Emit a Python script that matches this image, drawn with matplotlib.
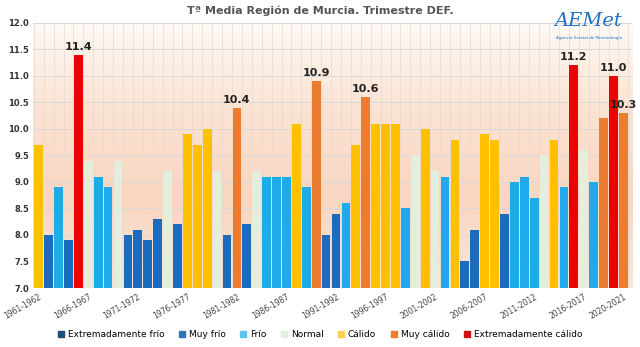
import numpy as np
import matplotlib
matplotlib.use("Agg")
import matplotlib.pyplot as plt
from matplotlib.patches import Patch
from matplotlib.colors import LinearSegmentedColormap

# winters 1961-1962 ... 2020-2021
start_years = list(range(1961, 2021))
temps = [9.7, 8.0, 8.9, 7.9, 11.4, 9.4, 9.1, 8.9, 9.4, 8.0,
         8.1, 7.9, 8.3, 9.2, 8.2, 9.9, 9.7, 10.0, 9.2, 8.0,
         10.4, 8.2, 9.2, 9.1, 9.1, 9.1, 10.1, 8.9, 10.9, 8.0,
         8.4, 8.6, 9.7, 10.6, 10.1, 10.1, 10.1, 8.5, 9.5, 10.0,
         9.2, 9.1, 9.8, 7.5, 8.1, 9.9, 9.8, 8.4, 9.0, 9.1,
         8.7, 9.5, 9.8, 8.9, 11.2, 9.6, 9.0, 10.2, 11.0, 10.3]
# EF=extremadamente frio, MF=muy frio, F=frio, N=normal, C=calido, MC=muy calido, EC=extremadamente calido
cats = ["C", "MF", "F", "MF", "EC", "N", "F", "F", "N", "MF",
        "MF", "MF", "MF", "N", "MF", "C", "C", "C", "N", "MF",
        "MC", "MF", "N", "F", "F", "F", "C", "F", "MC", "MF",
        "MF", "F", "C", "MC", "C", "C", "C", "F", "N", "C",
        "N", "F", "C", "MF", "MF", "C", "C", "MF", "F", "F",
        "F", "N", "C", "F", "EC", "N", "F", "MC", "EC", "MC"]
labelled = [4, 20, 28, 33, 54, 58, 59]

legend_keys = ["EF", "MF", "F", "N", "C", "MC", "EC"]
legend_names = ["Extremadamente frío", "Muy frío", "Frío", "Normal",
                "Cálido", "Muy cálido", "Extremadamente cálido"]
colors = {"EF": "#1f4e79", "MF": "#1b6cbf", "F": "#20aaea", "N": "#e3efdc",
          "C": "#ffc000", "MC": "#ec7c30", "EC": "#ee0000"}
legend_colors = {"EF": "#1f4e79", "MF": "#2e75b6", "F": "#5bc3ee", "N": "#e3efdc",
                 "C": "#ffd24d", "MC": "#ec7c30", "EC": "#d01010"}

tick_idx = list(range(0, 60, 5)) + [59]
tick_labels = ["%d-%d" % (start_years[i], start_years[i] + 1) for i in tick_idx]

fig = plt.figure(figsize=(6.4, 3.47), dpi=100)
ax = fig.add_axes([0.052, 0.170, 0.936, 0.764])

x = np.arange(len(temps))
ax.set_xlim(-0.55, 59.9)
ax.set_ylim(7.0, 12.0)

# background gradient
cmap = LinearSegmentedColormap.from_list("bg", ["#fbe6d8", "#f9d6c0", "#fbe3d3", "#fefaf6"])
grad = np.linspace(0, 1, 256).reshape(-1, 1)
ax.imshow(grad, aspect="auto", cmap=cmap, origin="lower",
          extent=[-0.55, 59.9, 7.0, 12.0], zorder=0)

for yy in np.arange(7.0, 12.01, 0.5):
    ax.axhline(yy, color="#d9d9d9", lw=0.7, zorder=1)
for xx in np.arange(-0.5, 60, 1):
    ax.axvline(xx, color="#ead9cc", lw=0.5, zorder=1)

ax.bar(x, np.array(temps) - 7.0, bottom=7.0, width=0.88,
       color=[colors[c] for c in cats], zorder=2)

for i in labelled:
    ax.text(x[i], temps[i] + 0.06, "%.1f" % temps[i], ha="center", va="bottom",
            fontsize=8, fontweight="bold", color="#222222", zorder=3)

ax.set_yticks(np.arange(7.0, 12.01, 0.5))
ax.set_yticklabels(["%.1f" % v for v in np.arange(7.0, 12.01, 0.5)],
                   fontsize=6, fontweight="bold", color="#333333")
ax.set_xticks(tick_idx)
ax.set_xticklabels(tick_labels, rotation=30, ha="right", rotation_mode="anchor",
                   fontsize=5.5, color="#444444")
ax.tick_params(length=0, pad=3)
for s in ax.spines.values():
    s.set_visible(False)

fig.suptitle("Tª Media Región de Murcia. Trimestre DEF.", y=0.985,
             fontsize=8, fontweight="bold", color="#555555")

handles = [Patch(color=legend_colors[k], label=n) for k, n in zip(legend_keys, legend_names)]
fig.legend(handles=handles, loc="lower center", bbox_to_anchor=(0.5, 0.0),
           ncol=7, frameon=False, fontsize=6.5, handlelength=0.7, handleheight=0.7,
           handletextpad=0.4, columnspacing=1.6)

# AEMet logo approximation
fig.text(0.92, 0.94, "AEMet", ha="center", va="center", fontsize=14,
         fontstyle="italic", color="#1f6fc0", family="DejaVu Serif")
fig.text(0.92, 0.89, "Agencia Estatal de Meteorología", ha="center", va="center",
         fontsize=3, color="#1f6fc0")

fig.savefig("out.png", dpi=100)
